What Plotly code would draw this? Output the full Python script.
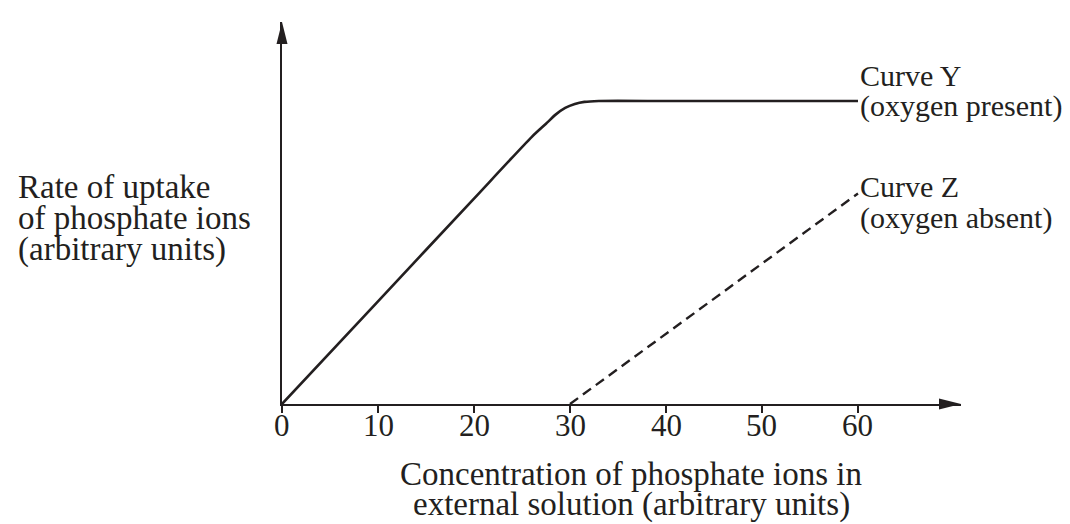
import plotly.graph_objects as go

# ---- data ----
curve_y_x = [0, 10, 20, 26, 27.5, 28.5, 29.5, 30.5, 31.5, 33, 40, 50, 60]
curve_y_v = [0, 33.9, 67.8, 88.1, 92.5, 95.5, 97.7, 99.0, 99.7, 100, 100, 100, 100]
curve_z_x = [30, 60]
curve_z_v = [0, 69.5]
x_ticks = [0, 10, 20, 30, 40, 50, 60]
x_tick_labels = ["0", "10", "20", "30", "40", "50", "60"]
y_label_lines = ["Rate of uptake", "of phosphate ions", "(arbitrary units)"]
x_title_lines = ["Concentration of phosphate ions in", "external solution (arbitrary units)"]
curve_y_label = ["Curve Y", "(oxygen present)"]
curve_z_label = ["Curve Z", "(oxygen absent)"]

# ---- layout geometry (pixels) ----
W, H = 1070, 524
L, R, T, B = 274, 1070 - 953, 14, 524 - 396
PW, PH = W - L - R, H - T - B
X_MAX = 70.73
Y_MAX = 126.07
INK = "#231f20"
FONT = "Liberation Serif"


def px_x(px):
    return (px - L) / PW


def px_y(py):
    return (H - B - py) / PH


fig = go.Figure()
fig.add_trace(go.Scatter(x=curve_y_x, y=curve_y_v, mode="lines",
                         line=dict(color=INK, width=2.6, shape="spline", smoothing=0.6),
                         cliponaxis=False, hoverinfo="skip"))
fig.add_trace(go.Scatter(x=curve_z_x, y=curve_z_v, mode="lines",
                         line=dict(color=INK, width=2.4, dash="10px,6px"),
                         cliponaxis=False, hoverinfo="skip"))

shapes = [
    dict(type="path", xref="paper", yref="paper", layer="above",
         path=f"M 1 0 L {1 - 22 / PW} {5.5 / PH} L {1 - 22 / PW} {-5.5 / PH} Z",
         fillcolor=INK, line=dict(color=INK, width=0)),
    dict(type="path", xref="paper", yref="paper", layer="above",
         path=f"M 0 1 L {5.5 / PW} {1 - 22 / PH} L {-5.5 / PW} {1 - 22 / PH} Z",
         fillcolor=INK, line=dict(color=INK, width=0)),
]

annotations = []
for v, t in zip(x_ticks, x_tick_labels):
    annotations.append(dict(text=t, xref="x", yref="paper", x=v, y=px_y(418),
                            xanchor="center", yanchor="middle", showarrow=False,
                            font=dict(size=31)))
for i, t in enumerate(y_label_lines):
    annotations.append(dict(text=t, xref="paper", yref="paper", x=px_x(8), y=px_y(179 + 31 * i),
                            xanchor="left", yanchor="middle", showarrow=False,
                            font=dict(size=33)))
for i, t in enumerate(x_title_lines):
    annotations.append(dict(text=t, xref="paper", yref="paper", x=px_x(623), y=px_y(466 + 30 * i),
                            xanchor="center", yanchor="middle", showarrow=False,
                            font=dict(size=33)))
for i, t in enumerate(curve_y_label):
    annotations.append(dict(text=t, xref="paper", yref="paper", x=px_x(850), y=px_y(67 + 31 * i),
                            xanchor="left", yanchor="middle", showarrow=False,
                            font=dict(size=30)))
for i, t in enumerate(curve_z_label):
    annotations.append(dict(text=t, xref="paper", yref="paper", x=px_x(850), y=px_y(178 + 32 * i),
                            xanchor="left", yanchor="middle", showarrow=False,
                            font=dict(size=30)))

fig.update_layout(
    width=W, height=H,
    margin=dict(l=L, r=R, t=T, b=B, pad=0),
    paper_bgcolor="white", plot_bgcolor="white",
    showlegend=False,
    font=dict(family=FONT, size=32, color=INK),
    shapes=shapes,
    annotations=annotations,
    xaxis=dict(range=[0, X_MAX], showgrid=False, zeroline=False,
               showline=True, linecolor=INK, linewidth=2,
               tickmode="array", tickvals=x_ticks, ticktext=x_tick_labels,
               ticks="outside", ticklen=7, tickwidth=2, tickcolor=INK,
               showticklabels=False),
    yaxis=dict(range=[0, Y_MAX], showgrid=False, zeroline=False,
               showline=True, linecolor=INK, linewidth=2,
               showticklabels=False, ticks=""),
)

fig.write_html("out.html")
